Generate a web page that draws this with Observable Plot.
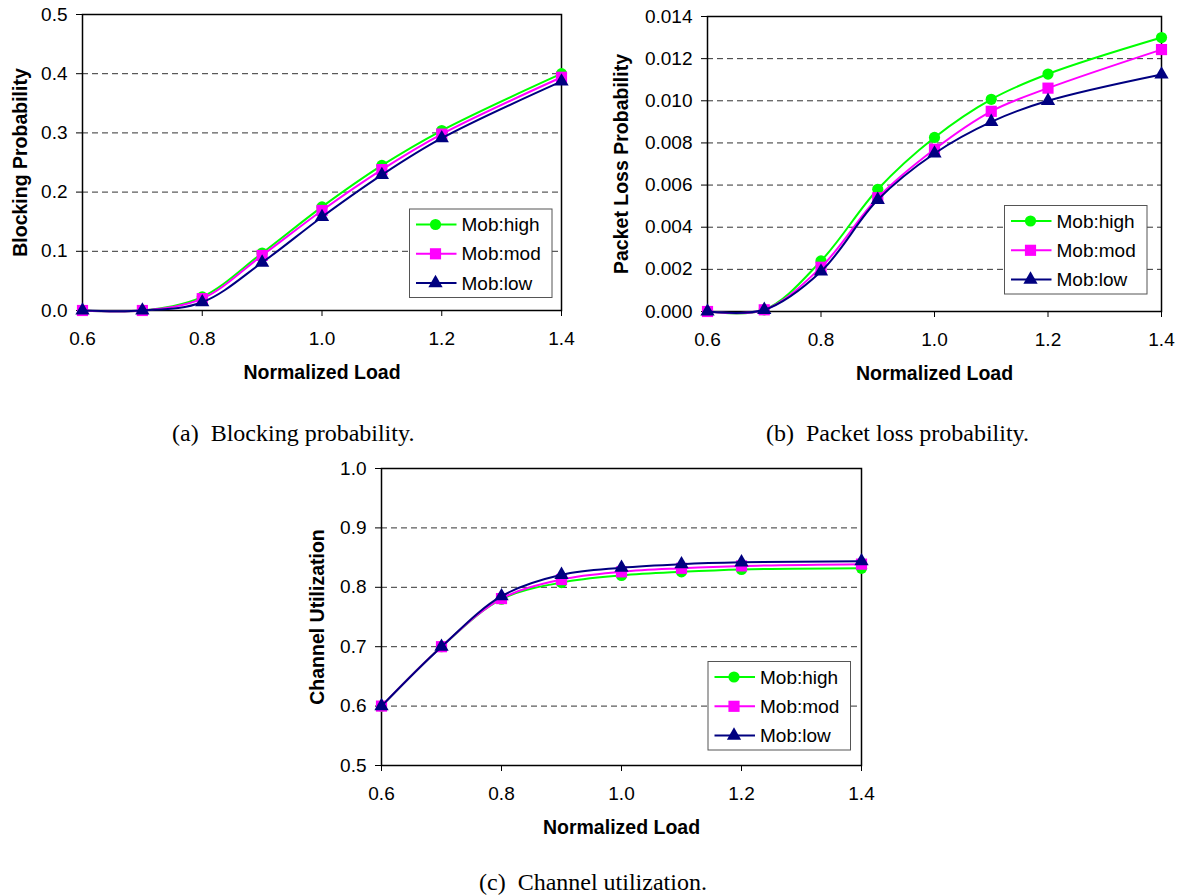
<!DOCTYPE html>
<html>
<head>
<meta charset="utf-8">
<script src="https://cdn.jsdelivr.net/npm/d3@7"></script>
<script src="https://cdn.jsdelivr.net/npm/@observablehq/plot@0.6"></script>
<style>
  html, body { margin: 0; padding: 0; background: #fff; }
  #page { position: relative; width: 1179px; height: 896px; background: #fff; overflow: hidden; }
  .panel { position: absolute; }
  .caption { position: absolute; font-family: "Liberation Serif", "Times New Roman", serif; font-size: 24px; color: #000; white-space: pre; line-height: 1; }
</style>
</head>
<body>
<div id="page">
  <div id="pa" class="panel" style="left:0px;top:0px"></div>
  <div id="pb" class="panel" style="left:590px;top:0px"></div>
  <div id="pc" class="panel" style="left:295px;top:455px"></div>
  <div class="caption" style="left:172px;top:421px">(a)  Blocking probability.</div>
  <div class="caption" style="left:766px;top:421px">(b)  Packet loss probability.</div>
  <div class="caption" style="left:479px;top:870px">(c)  Channel utilization.</div>
</div>
<script>
// Normalized offered load (x values shared by all three panels)
const loads = [0.6, 0.7, 0.8, 0.9, 1.0, 1.1, 1.2, 1.4];
const loadTicks = [0.6, 0.8, 1.0, 1.2, 1.4];
const seriesNames = ["Mob:high", "Mob:mod", "Mob:low"];

// (a) Blocking probability
const blockingHigh = [0, 0, 0.023, 0.097, 0.175, 0.245, 0.304, 0.400];
const blockingMod  = [0, 0, 0.020, 0.093, 0.169, 0.238, 0.298, 0.394];
const blockingLow  = [0, 0, 0.014, 0.081, 0.158, 0.229, 0.291, 0.387];
const blockingTicks = [0, 0.1, 0.2, 0.3, 0.4, 0.5];

// (b) Packet loss probability
const lossHigh = [0, 0.00008, 0.0024, 0.0058, 0.00826, 0.01007, 0.01127, 0.0130];
const lossMod  = [0, 0.00008, 0.0021, 0.0054, 0.0077, 0.0095, 0.0106, 0.01243];
const lossLow  = [0, 0.00008, 0.0019, 0.0053, 0.0075, 0.0090, 0.0100, 0.01125];
const lossTicks = [0, 0.002, 0.004, 0.006, 0.008, 0.010, 0.012, 0.014];

// (c) Channel utilization
const utilHigh = [0.6, 0.7, 0.780, 0.808, 0.820, 0.826, 0.830, 0.832];
const utilMod  = [0.6, 0.7, 0.781, 0.813, 0.826, 0.832, 0.836, 0.839];
const utilLow  = [0.6, 0.7, 0.785, 0.821, 0.833, 0.839, 0.842, 0.844];
const utilTicks = [0.5, 0.6, 0.7, 0.8, 0.9, 1.0];

// Per-series styling
const styles = [
  {color: "#00ff00", symbol: "circle", r: 5.6},
  {color: "#ff00ff", symbol: "square", r: 6.3},
  {color: "#000080", symbol: "triangle", r: 5.3}
];
const d3Symbols = {circle: d3.symbolCircle, square: d3.symbolSquare, triangle: d3.symbolTriangle};

const FONT = "'Liberation Sans', Arial, Helvetica, sans-serif";
const TICK_SIZE = 19;
const TITLE_SIZE = 19.5;

// Legend box drawn inside the plot frame, anchored at its lower-right corner
function legendMark(insetRight, insetBottom) {
  return (index, scales, values, dims) => {
    const boxW = 142.5, boxH = 88.5;
    const x0 = dims.width - dims.marginRight - insetRight - boxW;
    const y0 = dims.height - dims.marginBottom - insetBottom - boxH;
    const g = d3.create("svg:g")
      .attr("font-family", FONT).attr("font-size", TICK_SIZE).attr("text-anchor", "start");
    g.append("rect")
      .attr("x", x0).attr("y", y0).attr("width", boxW).attr("height", boxH)
      .attr("fill", "white").attr("stroke", "#555").attr("stroke-width", 1);
    seriesNames.forEach((name, i) => {
      const s = styles[i];
      const cy = y0 + 15.5 + i * 29.3;
      g.append("line")
        .attr("x1", x0 + 6.5).attr("x2", x0 + 47).attr("y1", cy).attr("y2", cy)
        .attr("stroke", s.color).attr("stroke-width", 2);
      g.append("path")
        .attr("transform", `translate(${x0 + 26},${cy})`)
        .attr("d", d3.symbol(d3Symbols[s.symbol], Math.PI * s.r * s.r)())
        .attr("fill", s.color);
      g.append("text")
        .attr("x", x0 + 52).attr("y", cy).attr("dy", "0.35em")
        .attr("text-anchor", "start")
        .attr("fill", "black").text(name);
    });
    return g.node();
  };
}

function panel({values, yDomain, yTicks, yFormat, yLabel, yLabelDx, width, height, margins, legendInset}) {
  const lineMarks = [];
  values.forEach((vals, i) => {
    const rows = loads.map((x, j) => ({load: x, value: vals[j], series: seriesNames[i]}));
    const s = styles[i];
    lineMarks.push(
      Plot.line(rows, {x: "load", y: "value", stroke: s.color, strokeWidth: 2, curve: "catmull-rom"}),
      Plot.dot(rows, {x: "load", y: "value", symbol: () => s.symbol, r: s.r, fill: s.color, stroke: "none"})
    );
  });
  const inner = yTicks.slice(1, -1);
  return Plot.plot({
    width, height,
    marginLeft: margins[0], marginRight: margins[1], marginTop: margins[2], marginBottom: margins[3],
    style: {fontFamily: FONT, fontSize: `${TICK_SIZE}px`, color: "black", background: "white", overflow: "visible"},
    x: {domain: [0.6, 1.4]},
    y: {domain: yDomain},
    symbol: {domain: ["circle", "square", "triangle"], range: ["circle", "square", "triangle"]},
    marks: [
      Plot.ruleY(inner, {stroke: "#333", strokeWidth: 1, strokeDasharray: "6,4"}),
      Plot.frame({stroke: "black", strokeWidth: 1.5}),
      Plot.axisX({ticks: loadTicks, tickFormat: d3.format(".1f"), tickSize: 6, tickPadding: 15, fontSize: TICK_SIZE, label: null, strokeWidth: 1}),
      Plot.axisY({ticks: yTicks, tickFormat: d3.format(yFormat), tickSize: 6, tickPadding: 9, fontSize: TICK_SIZE, label: null, strokeWidth: 1}),
      Plot.text(["Normalized Load"], {frameAnchor: "bottom", dy: 62, textAnchor: "middle", lineAnchor: "middle", fontWeight: "bold", fontSize: TITLE_SIZE}),
      Plot.text([yLabel], {frameAnchor: "left", dx: yLabelDx, rotate: -90, textAnchor: "middle", lineAnchor: "middle", fontWeight: "bold", fontSize: TITLE_SIZE}),
      ...lineMarks,
      legendMark(legendInset[0], legendInset[1])
    ]
  });
}

document.getElementById("pa").append(panel({
  values: [blockingHigh, blockingMod, blockingLow],
  yDomain: [0, 0.5], yTicks: blockingTicks, yFormat: ".1f",
  yLabel: "Blocking Probability", yLabelDx: -62,
  width: 590, height: 390, margins: [82, 29, 14, 80], legendInset: [9, 12.5]
}));

document.getElementById("pb").append(panel({
  values: [lossHigh, lossMod, lossLow],
  yDomain: [0, 0.014], yTicks: lossTicks, yFormat: ".3f",
  yLabel: "Packet Loss Probability", yLabelDx: -86,
  width: 589, height: 390, margins: [117, 18, 16, 79], legendInset: [14, 17]
}));

document.getElementById("pc").append(panel({
  values: [utilHigh, utilMod, utilLow],
  yDomain: [0.5, 1.0], yTicks: utilTicks, yFormat: ".1f",
  yLabel: "Channel Utilization", yLabelDx: -64,
  width: 590, height: 390, margins: [86, 24, 13, 80], legendInset: [10.5, 15]
}));
</script>
</body>
</html>
